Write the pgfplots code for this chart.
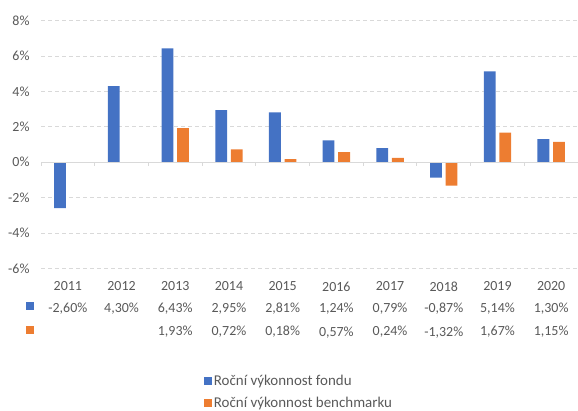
\documentclass[border=0pt]{standalone}
\usepackage{fontspec}
\setmainfont{Carlito}
\usepackage{pgfplots}
\pgfplotsset{compat=1.18}
\definecolor{fund}{HTML}{4472C4}
\definecolor{bench}{HTML}{ED7D31}
\definecolor{txt}{HTML}{595959}
\definecolor{gridc}{HTML}{D9D9D9}
\begin{document}
\begin{tikzpicture}[x=1bp,y=1bp]
\useasboundingbox (0,0) rectangle (578,410);
\begin{axis}[
  at={(41bp,141.7bp)}, anchor=south west,
  scale only axis, width=537bp, height=247.6bp,
  xmin=0.5, xmax=10.5, ymin=-6, ymax=8,
  clip=false,
  axis line style={draw=none},
  major tick length=0pt,
  ytick={-6,-4,-2,0,2,4,6,8},
  yticklabels={-6\%,-4\%,-2\%,0\%,2\%,4\%,6\%,8\%},
  ymajorgrids,
  grid style={gridc, line width=0.8bp, dash pattern=on 4bp off 3bp},
  yticklabel style={font=\fontsize{14}{17}\selectfont, text=txt, xshift=-8bp},
  xtick={1,...,10},
  xticklabels={
    {2011\\-2,60\%},
    {2012\\4,30\%},
    {2013\\6,43\%\\[2bp]1,93\%},
    {2014\\2,95\%\\[2bp]0,72\%},
    {2015\\2,81\%\\[2bp]0,18\%},
    {2016\\1,24\%\\[2bp]0,57\%},
    {2017\\0,79\%\\[2bp]0,24\%},
    {2018\\-0,87\%\\[2bp]-1,32\%},
    {2019\\5,14\%\\[2bp]1,67\%},
    {2020\\1,30\%\\[2bp]1,15\%}},
  xticklabel style={font=\fontsize{14}{21.5}\selectfont, text=txt, align=center, anchor=north, yshift=-10bp},
  bar width=0.22,
  legend style={at={(axis description cs:0.303,-0.423)}, anchor=north west, draw=none, fill=none,
    font=\fontsize{15}{18}\selectfont, text=txt, row sep=6bp, inner sep=0pt},
  legend cell align=left,
  legend image code/.code={\fill[#1] (0bp,-4bp) rectangle (8bp,4bp);},
]
\addplot[ybar, bar shift=-0.145, fill=fund, draw=none] coordinates {
  (1,-2.60) (2,4.30) (3,6.43) (4,2.95) (5,2.81) (6,1.24) (7,0.79) (8,-0.87) (9,5.14) (10,1.30)};
\addlegendentry{Roční výkonnost fondu}
\addplot[ybar, bar shift=0.145, fill=bench, draw=none] coordinates {
  (3,1.93) (4,0.72) (5,0.18) (6,0.57) (7,0.24) (8,-1.32) (9,1.67) (10,1.15)};
\addlegendentry{Roční výkonnost benchmarku}
\draw[gridc, line width=1bp] (axis cs:0.5,0) -- (axis cs:10.5,0);
\draw[gridc, line width=1bp]
  (axis cs:0.5,0) -- ++(axis direction cs:0,-0.23) (axis cs:1.5,0) -- ++(axis direction cs:0,-0.23)
  (axis cs:2.5,0) -- ++(axis direction cs:0,-0.23) (axis cs:3.5,0) -- ++(axis direction cs:0,-0.23)
  (axis cs:4.5,0) -- ++(axis direction cs:0,-0.23) (axis cs:5.5,0) -- ++(axis direction cs:0,-0.23)
  (axis cs:6.5,0) -- ++(axis direction cs:0,-0.23) (axis cs:7.5,0) -- ++(axis direction cs:0,-0.23)
  (axis cs:8.5,0) -- ++(axis direction cs:0,-0.23) (axis cs:9.5,0) -- ++(axis direction cs:0,-0.23)
  (axis cs:10.5,0) -- ++(axis direction cs:0,-0.23);
\end{axis}
\fill[fund] (26,100) rectangle (34,108);
\fill[bench] (26,76) rectangle (34,84);
\end{tikzpicture}
\end{document}
